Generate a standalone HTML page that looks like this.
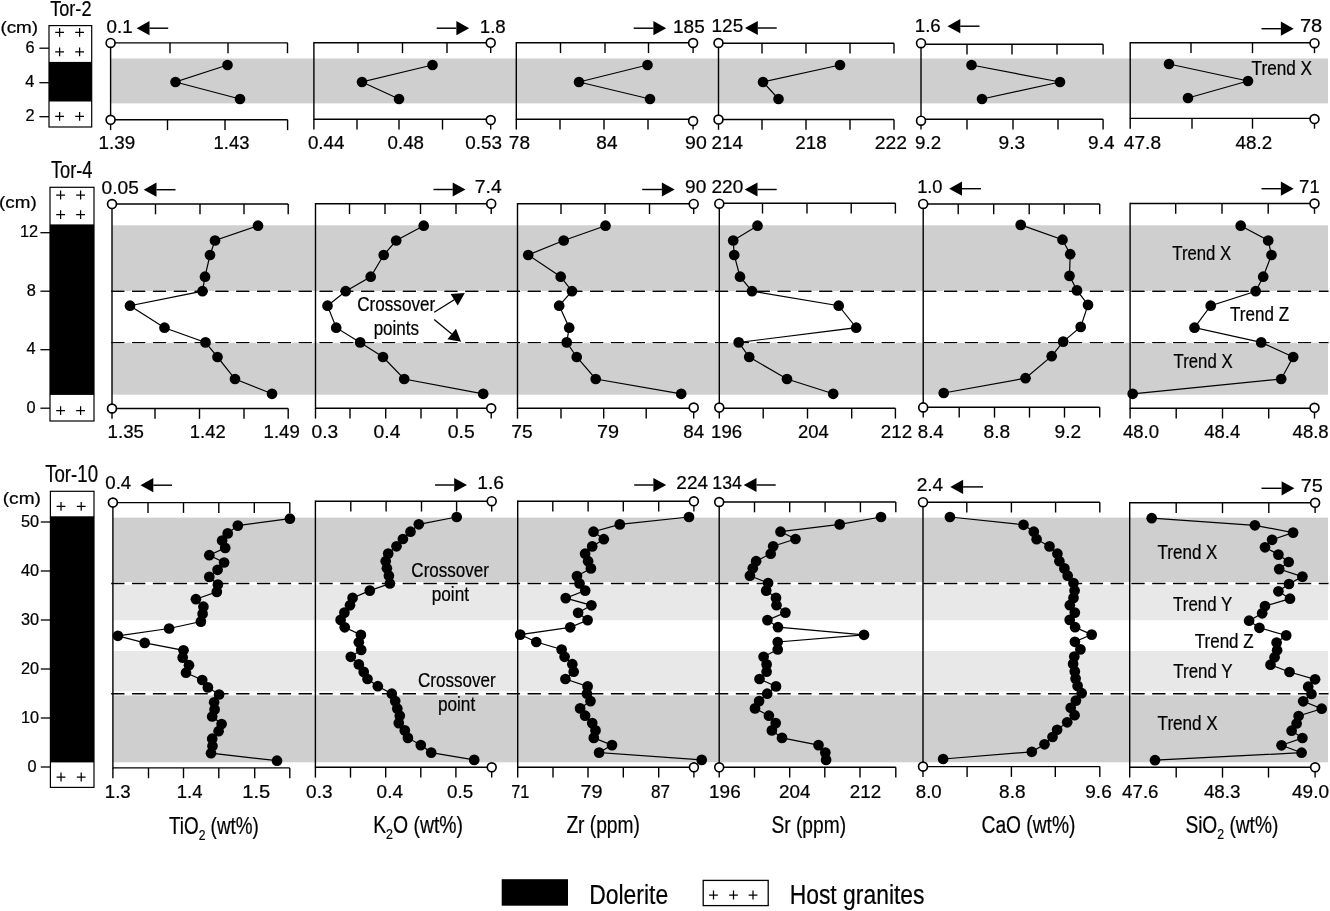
<!DOCTYPE html>
<html><head><meta charset="utf-8"><title>Tor dolerite geochemical profiles</title>
<style>
html,body{margin:0;padding:0;background:#fff}
svg{display:block}
text{font-family:"Liberation Sans",sans-serif;fill:#000;stroke:#000;stroke-width:0.22px}
</style></head><body>
<svg width="1330" height="911" viewBox="0 0 1330 911">
<rect width="1330" height="911" fill="#fff"/>
<rect x="111.00" y="58.50" width="1217.00" height="44.90" fill="#cfcfcf"/>
<rect x="112.00" y="225.30" width="1216.00" height="65.70" fill="#cfcfcf"/>
<rect x="112.00" y="342.70" width="1216.00" height="52.00" fill="#cfcfcf"/>
<rect x="113.00" y="517.60" width="1215.00" height="64.40" fill="#cfcfcf"/>
<rect x="113.00" y="585.10" width="1215.00" height="35.10" fill="#e8e8e8"/>
<rect x="113.00" y="651.00" width="1215.00" height="40.30" fill="#e8e8e8"/>
<rect x="113.00" y="695.20" width="1215.00" height="67.10" fill="#cfcfcf"/>
<line x1="110.5" y1="291.3" x2="1328.5" y2="291.3" stroke="#fff" stroke-width="2.8" stroke-dasharray="14.7 6.12"/>
<line x1="111.2" y1="291.3" x2="1328.5" y2="291.3" stroke="#000" stroke-width="1.4" stroke-dasharray="13.3 7.52"/>
<line x1="110.5" y1="342.6" x2="1328.5" y2="342.6" stroke="#fff" stroke-width="2.8" stroke-dasharray="14.7 6.12"/>
<line x1="111.2" y1="342.6" x2="1328.5" y2="342.6" stroke="#000" stroke-width="1.4" stroke-dasharray="13.3 7.52"/>
<line x1="111.2" y1="583.55" x2="1328.5" y2="583.55" stroke="#fff" stroke-width="3.1"/>
<line x1="111.2" y1="583.55" x2="1328.5" y2="583.55" stroke="#000" stroke-width="1.4" stroke-dasharray="13.3 7.52"/>
<line x1="111.2" y1="693.7" x2="1328.5" y2="693.7" stroke="#fff" stroke-width="3.1"/>
<line x1="111.2" y1="693.7" x2="1328.5" y2="693.7" stroke="#000" stroke-width="1.4" stroke-dasharray="13.3 7.52"/>
<rect x="49.00" y="25.60" width="42.70" height="101.40" fill="#fff" stroke="#000" stroke-width="1.2"/>
<rect x="49.00" y="61.90" width="42.70" height="39.60" fill="#000"/>
<path d="M55.20 32.30H64.00M59.60 27.90V36.70" stroke="#000" stroke-width="1.25" fill="none"/>
<path d="M75.20 32.30H84.00M79.60 27.90V36.70" stroke="#000" stroke-width="1.25" fill="none"/>
<path d="M55.20 51.90H64.00M59.60 47.50V56.30" stroke="#000" stroke-width="1.25" fill="none"/>
<path d="M75.20 51.90H84.00M79.60 47.50V56.30" stroke="#000" stroke-width="1.25" fill="none"/>
<path d="M55.20 116.40H64.00M59.60 112.00V120.80" stroke="#000" stroke-width="1.25" fill="none"/>
<path d="M75.20 116.40H84.00M79.60 112.00V120.80" stroke="#000" stroke-width="1.25" fill="none"/>
<rect x="50.00" y="187.30" width="44.00" height="233.70" fill="#fff" stroke="#000" stroke-width="1.2"/>
<rect x="50.00" y="224.40" width="44.00" height="170.50" fill="#000"/>
<path d="M56.20 195.00H65.00M60.60 190.60V199.40" stroke="#000" stroke-width="1.25" fill="none"/>
<path d="M76.20 195.00H85.00M80.60 190.60V199.40" stroke="#000" stroke-width="1.25" fill="none"/>
<path d="M56.20 214.60H65.00M60.60 210.20V219.00" stroke="#000" stroke-width="1.25" fill="none"/>
<path d="M76.20 214.60H85.00M80.60 210.20V219.00" stroke="#000" stroke-width="1.25" fill="none"/>
<path d="M56.20 410.60H65.00M60.60 406.20V415.00" stroke="#000" stroke-width="1.25" fill="none"/>
<path d="M76.20 410.60H85.00M80.60 406.20V415.00" stroke="#000" stroke-width="1.25" fill="none"/>
<rect x="50.40" y="491.30" width="43.60" height="296.10" fill="#fff" stroke="#000" stroke-width="1.2"/>
<rect x="50.40" y="516.30" width="43.60" height="246.10" fill="#000"/>
<path d="M56.60 506.30H65.40M61.00 501.90V510.70" stroke="#000" stroke-width="1.25" fill="none"/>
<path d="M76.80 506.30H85.60M81.20 501.90V510.70" stroke="#000" stroke-width="1.25" fill="none"/>
<path d="M56.60 777.00H65.40M61.00 772.60V781.40" stroke="#000" stroke-width="1.25" fill="none"/>
<path d="M76.80 777.00H85.60M81.20 772.60V781.40" stroke="#000" stroke-width="1.25" fill="none"/>
<line x1="39.40" y1="48.20" x2="49.00" y2="48.20" stroke="#000" stroke-width="1.3" />
<text transform="translate(25.58,52.90) scale(1.0400,1)" font-size="15.7">6</text>
<line x1="39.40" y1="82.70" x2="49.00" y2="82.70" stroke="#000" stroke-width="1.3" />
<text transform="translate(25.32,87.40) scale(1.0400,1)" font-size="15.7">4</text>
<line x1="39.40" y1="116.70" x2="49.00" y2="116.70" stroke="#000" stroke-width="1.3" />
<text transform="translate(25.58,121.40) scale(1.0400,1)" font-size="15.7">2</text>
<line x1="40.40" y1="232.70" x2="50.00" y2="232.70" stroke="#000" stroke-width="1.3" />
<text transform="translate(19.98,237.40) scale(1.0400,1)" font-size="15.7">12</text>
<line x1="40.40" y1="291.20" x2="50.00" y2="291.20" stroke="#000" stroke-width="1.3" />
<text transform="translate(26.68,295.90) scale(1.0400,1)" font-size="15.7">8</text>
<line x1="40.40" y1="349.70" x2="50.00" y2="349.70" stroke="#000" stroke-width="1.3" />
<text transform="translate(26.42,354.40) scale(1.0400,1)" font-size="15.7">4</text>
<line x1="40.40" y1="408.20" x2="50.00" y2="408.20" stroke="#000" stroke-width="1.3" />
<text transform="translate(26.42,412.90) scale(1.0400,1)" font-size="15.7">0</text>
<line x1="40.80" y1="522.00" x2="50.40" y2="522.00" stroke="#000" stroke-width="1.3" />
<text transform="translate(21.02,526.70) scale(1.0400,1)" font-size="15.7">50</text>
<line x1="40.80" y1="571.00" x2="50.40" y2="571.00" stroke="#000" stroke-width="1.3" />
<text transform="translate(21.02,575.70) scale(1.0400,1)" font-size="15.7">40</text>
<line x1="40.80" y1="620.00" x2="50.40" y2="620.00" stroke="#000" stroke-width="1.3" />
<text transform="translate(21.02,624.70) scale(1.0400,1)" font-size="15.7">30</text>
<line x1="40.80" y1="669.00" x2="50.40" y2="669.00" stroke="#000" stroke-width="1.3" />
<text transform="translate(21.02,673.70) scale(1.0400,1)" font-size="15.7">20</text>
<line x1="40.80" y1="718.00" x2="50.40" y2="718.00" stroke="#000" stroke-width="1.3" />
<text transform="translate(21.02,722.70) scale(1.0400,1)" font-size="15.7">10</text>
<line x1="40.80" y1="767.00" x2="50.40" y2="767.00" stroke="#000" stroke-width="1.3" />
<text transform="translate(27.42,771.70) scale(1.0400,1)" font-size="15.7">0</text>
<text transform="translate(0.39,33.20) scale(1.1094,1)" font-size="17">(cm)</text>
<text transform="translate(-0.91,208.20) scale(1.1062,1)" font-size="17">(cm)</text>
<text transform="translate(2.78,503.60) scale(1.1219,1)" font-size="17">(cm)</text>
<text transform="translate(50.21,16.20) scale(0.7882,1)" font-size="23">Tor-2</text>
<text transform="translate(50.90,177.50) scale(0.7922,1)" font-size="23">Tor-4</text>
<text transform="translate(45.19,481.90) scale(0.8109,1)" font-size="23">Tor-10</text>
<line x1="110.60" y1="42.20" x2="110.60" y2="120.50" stroke="#000" stroke-width="1.4" />
<line x1="110.60" y1="42.90" x2="287.70" y2="42.90" stroke="#000" stroke-width="1.4" />
<line x1="110.60" y1="119.80" x2="287.70" y2="119.80" stroke="#000" stroke-width="1.4" />
<line x1="170.00" y1="42.90" x2="170.00" y2="53.20" stroke="#000" stroke-width="1.4" />
<line x1="228.00" y1="42.90" x2="228.00" y2="53.20" stroke="#000" stroke-width="1.4" />
<line x1="287.50" y1="42.90" x2="287.50" y2="53.20" stroke="#000" stroke-width="1.4" />
<line x1="110.60" y1="119.80" x2="110.60" y2="130.10" stroke="#000" stroke-width="1.4" />
<line x1="167.50" y1="119.80" x2="167.50" y2="130.10" stroke="#000" stroke-width="1.4" />
<line x1="225.00" y1="119.80" x2="225.00" y2="130.10" stroke="#000" stroke-width="1.4" />
<line x1="287.60" y1="119.80" x2="287.60" y2="130.10" stroke="#000" stroke-width="1.4" />
<circle cx="110.60" cy="42.90" r="4.45" fill="#fff" stroke="#000" stroke-width="1.65"/>
<circle cx="110.60" cy="119.80" r="4.45" fill="#fff" stroke="#000" stroke-width="1.65"/>
<line x1="313.90" y1="42.10" x2="313.90" y2="120.00" stroke="#000" stroke-width="1.4" />
<line x1="313.90" y1="42.80" x2="490.70" y2="42.80" stroke="#000" stroke-width="1.4" />
<line x1="313.90" y1="119.30" x2="490.70" y2="119.30" stroke="#000" stroke-width="1.4" />
<line x1="358.00" y1="42.80" x2="358.00" y2="53.10" stroke="#000" stroke-width="1.4" />
<line x1="402.50" y1="42.80" x2="402.50" y2="53.10" stroke="#000" stroke-width="1.4" />
<line x1="447.00" y1="42.80" x2="447.00" y2="53.10" stroke="#000" stroke-width="1.4" />
<line x1="490.70" y1="42.80" x2="490.70" y2="53.10" stroke="#000" stroke-width="1.4" />
<line x1="313.90" y1="119.30" x2="313.90" y2="129.60" stroke="#000" stroke-width="1.4" />
<line x1="357.00" y1="119.30" x2="357.00" y2="129.60" stroke="#000" stroke-width="1.4" />
<line x1="399.00" y1="119.30" x2="399.00" y2="129.60" stroke="#000" stroke-width="1.4" />
<line x1="442.50" y1="119.30" x2="442.50" y2="129.60" stroke="#000" stroke-width="1.4" />
<line x1="490.70" y1="119.30" x2="490.70" y2="129.60" stroke="#000" stroke-width="1.4" />
<circle cx="490.70" cy="42.80" r="4.45" fill="#fff" stroke="#000" stroke-width="1.65"/>
<circle cx="490.70" cy="120.00" r="4.45" fill="#fff" stroke="#000" stroke-width="1.65"/>
<line x1="516.30" y1="42.10" x2="516.30" y2="119.90" stroke="#000" stroke-width="1.4" />
<line x1="516.30" y1="42.80" x2="693.10" y2="42.80" stroke="#000" stroke-width="1.4" />
<line x1="516.30" y1="119.20" x2="693.10" y2="119.20" stroke="#000" stroke-width="1.4" />
<line x1="560.50" y1="42.80" x2="560.50" y2="53.10" stroke="#000" stroke-width="1.4" />
<line x1="605.00" y1="42.80" x2="605.00" y2="53.10" stroke="#000" stroke-width="1.4" />
<line x1="648.50" y1="42.80" x2="648.50" y2="53.10" stroke="#000" stroke-width="1.4" />
<line x1="693.10" y1="42.80" x2="693.10" y2="53.10" stroke="#000" stroke-width="1.4" />
<line x1="516.30" y1="119.20" x2="516.30" y2="129.50" stroke="#000" stroke-width="1.4" />
<line x1="560.00" y1="119.20" x2="560.00" y2="129.50" stroke="#000" stroke-width="1.4" />
<line x1="604.00" y1="119.20" x2="604.00" y2="129.50" stroke="#000" stroke-width="1.4" />
<line x1="648.00" y1="119.20" x2="648.00" y2="129.50" stroke="#000" stroke-width="1.4" />
<line x1="693.10" y1="119.20" x2="693.10" y2="129.50" stroke="#000" stroke-width="1.4" />
<circle cx="693.10" cy="43.00" r="4.45" fill="#fff" stroke="#000" stroke-width="1.65"/>
<circle cx="693.10" cy="121.10" r="4.45" fill="#fff" stroke="#000" stroke-width="1.65"/>
<line x1="718.50" y1="42.50" x2="718.50" y2="120.20" stroke="#000" stroke-width="1.4" />
<line x1="718.50" y1="43.20" x2="894.00" y2="43.20" stroke="#000" stroke-width="1.4" />
<line x1="718.50" y1="119.50" x2="894.00" y2="119.50" stroke="#000" stroke-width="1.4" />
<line x1="762.00" y1="43.20" x2="762.00" y2="53.50" stroke="#000" stroke-width="1.4" />
<line x1="806.00" y1="43.20" x2="806.00" y2="53.50" stroke="#000" stroke-width="1.4" />
<line x1="850.00" y1="43.20" x2="850.00" y2="53.50" stroke="#000" stroke-width="1.4" />
<line x1="894.00" y1="43.20" x2="894.00" y2="53.50" stroke="#000" stroke-width="1.4" />
<line x1="718.50" y1="119.50" x2="718.50" y2="129.80" stroke="#000" stroke-width="1.4" />
<line x1="762.00" y1="119.50" x2="762.00" y2="129.80" stroke="#000" stroke-width="1.4" />
<line x1="806.00" y1="119.50" x2="806.00" y2="129.80" stroke="#000" stroke-width="1.4" />
<line x1="850.00" y1="119.50" x2="850.00" y2="129.80" stroke="#000" stroke-width="1.4" />
<line x1="894.00" y1="119.50" x2="894.00" y2="129.80" stroke="#000" stroke-width="1.4" />
<circle cx="718.50" cy="43.00" r="4.45" fill="#fff" stroke="#000" stroke-width="1.65"/>
<circle cx="718.50" cy="119.50" r="4.45" fill="#fff" stroke="#000" stroke-width="1.65"/>
<line x1="921.00" y1="43.60" x2="921.00" y2="120.00" stroke="#000" stroke-width="1.4" />
<line x1="921.00" y1="44.30" x2="1103.10" y2="44.30" stroke="#000" stroke-width="1.4" />
<line x1="921.00" y1="119.30" x2="1103.10" y2="119.30" stroke="#000" stroke-width="1.4" />
<line x1="967.00" y1="44.30" x2="967.00" y2="54.60" stroke="#000" stroke-width="1.4" />
<line x1="1012.00" y1="44.30" x2="1012.00" y2="54.60" stroke="#000" stroke-width="1.4" />
<line x1="1057.00" y1="44.30" x2="1057.00" y2="54.60" stroke="#000" stroke-width="1.4" />
<line x1="1103.10" y1="44.30" x2="1103.10" y2="54.60" stroke="#000" stroke-width="1.4" />
<line x1="921.00" y1="119.30" x2="921.00" y2="129.60" stroke="#000" stroke-width="1.4" />
<line x1="967.00" y1="119.30" x2="967.00" y2="129.60" stroke="#000" stroke-width="1.4" />
<line x1="1013.00" y1="119.30" x2="1013.00" y2="129.60" stroke="#000" stroke-width="1.4" />
<line x1="1058.00" y1="119.30" x2="1058.00" y2="129.60" stroke="#000" stroke-width="1.4" />
<line x1="1103.10" y1="119.30" x2="1103.10" y2="129.60" stroke="#000" stroke-width="1.4" />
<circle cx="921.00" cy="43.20" r="4.45" fill="#fff" stroke="#000" stroke-width="1.65"/>
<circle cx="921.00" cy="120.70" r="4.45" fill="#fff" stroke="#000" stroke-width="1.65"/>
<line x1="1130.20" y1="42.10" x2="1130.20" y2="119.10" stroke="#000" stroke-width="1.4" />
<line x1="1130.20" y1="42.80" x2="1314.50" y2="42.80" stroke="#000" stroke-width="1.4" />
<line x1="1130.20" y1="118.40" x2="1314.50" y2="118.40" stroke="#000" stroke-width="1.4" />
<line x1="1191.00" y1="42.80" x2="1191.00" y2="53.10" stroke="#000" stroke-width="1.4" />
<line x1="1252.50" y1="42.80" x2="1252.50" y2="53.10" stroke="#000" stroke-width="1.4" />
<line x1="1314.50" y1="42.80" x2="1314.50" y2="53.10" stroke="#000" stroke-width="1.4" />
<line x1="1130.20" y1="118.40" x2="1130.20" y2="128.70" stroke="#000" stroke-width="1.4" />
<line x1="1192.00" y1="118.40" x2="1192.00" y2="128.70" stroke="#000" stroke-width="1.4" />
<line x1="1252.50" y1="118.40" x2="1252.50" y2="128.70" stroke="#000" stroke-width="1.4" />
<line x1="1314.50" y1="118.40" x2="1314.50" y2="128.70" stroke="#000" stroke-width="1.4" />
<circle cx="1314.50" cy="43.20" r="4.45" fill="#fff" stroke="#000" stroke-width="1.65"/>
<circle cx="1314.50" cy="119.00" r="4.45" fill="#fff" stroke="#000" stroke-width="1.65"/>
<path d="M227.5 65.0L175.5 82.0L240.0 99.0" fill="none" stroke="#000" stroke-width="1.2"/>
<circle cx="227.5" cy="65.0" r="5.3" fill="#000"/>
<circle cx="175.5" cy="82.0" r="5.3" fill="#000"/>
<circle cx="240.0" cy="99.0" r="5.3" fill="#000"/>
<path d="M432.5 65.0L362.0 82.0L399.0 99.0" fill="none" stroke="#000" stroke-width="1.2"/>
<circle cx="432.5" cy="65.0" r="5.3" fill="#000"/>
<circle cx="362.0" cy="82.0" r="5.3" fill="#000"/>
<circle cx="399.0" cy="99.0" r="5.3" fill="#000"/>
<path d="M647.5 65.0L579.0 82.0L650.0 99.0" fill="none" stroke="#000" stroke-width="1.2"/>
<circle cx="647.5" cy="65.0" r="5.3" fill="#000"/>
<circle cx="579.0" cy="82.0" r="5.3" fill="#000"/>
<circle cx="650.0" cy="99.0" r="5.3" fill="#000"/>
<path d="M840.0 65.0L763.0 82.0L778.5 99.0" fill="none" stroke="#000" stroke-width="1.2"/>
<circle cx="840.0" cy="65.0" r="5.3" fill="#000"/>
<circle cx="763.0" cy="82.0" r="5.3" fill="#000"/>
<circle cx="778.5" cy="99.0" r="5.3" fill="#000"/>
<path d="M971.5 65.0L1060.0 82.0L982.0 99.0" fill="none" stroke="#000" stroke-width="1.2"/>
<circle cx="971.5" cy="65.0" r="5.3" fill="#000"/>
<circle cx="1060.0" cy="82.0" r="5.3" fill="#000"/>
<circle cx="982.0" cy="99.0" r="5.3" fill="#000"/>
<path d="M1169.0 64.0L1248.0 81.0L1188.0 98.0" fill="none" stroke="#000" stroke-width="1.2"/>
<circle cx="1169.0" cy="64.0" r="5.3" fill="#000"/>
<circle cx="1248.0" cy="81.0" r="5.3" fill="#000"/>
<circle cx="1188.0" cy="98.0" r="5.3" fill="#000"/>
<line x1="112.00" y1="203.30" x2="112.00" y2="409.20" stroke="#000" stroke-width="1.4" />
<line x1="112.00" y1="204.00" x2="288.20" y2="204.00" stroke="#000" stroke-width="1.4" />
<line x1="112.00" y1="408.50" x2="288.20" y2="408.50" stroke="#000" stroke-width="1.4" />
<line x1="155.50" y1="204.00" x2="155.50" y2="214.30" stroke="#000" stroke-width="1.4" />
<line x1="200.00" y1="204.00" x2="200.00" y2="214.30" stroke="#000" stroke-width="1.4" />
<line x1="244.00" y1="204.00" x2="244.00" y2="214.30" stroke="#000" stroke-width="1.4" />
<line x1="288.20" y1="204.00" x2="288.20" y2="214.30" stroke="#000" stroke-width="1.4" />
<line x1="112.00" y1="408.50" x2="112.00" y2="418.80" stroke="#000" stroke-width="1.4" />
<line x1="155.00" y1="408.50" x2="155.00" y2="418.80" stroke="#000" stroke-width="1.4" />
<line x1="199.50" y1="408.50" x2="199.50" y2="418.80" stroke="#000" stroke-width="1.4" />
<line x1="244.00" y1="408.50" x2="244.00" y2="418.80" stroke="#000" stroke-width="1.4" />
<line x1="288.20" y1="408.50" x2="288.20" y2="418.80" stroke="#000" stroke-width="1.4" />
<circle cx="112.00" cy="204.00" r="4.45" fill="#fff" stroke="#000" stroke-width="1.65"/>
<circle cx="112.00" cy="408.50" r="4.45" fill="#fff" stroke="#000" stroke-width="1.65"/>
<line x1="315.50" y1="203.00" x2="315.50" y2="409.00" stroke="#000" stroke-width="1.4" />
<line x1="315.50" y1="203.70" x2="491.20" y2="203.70" stroke="#000" stroke-width="1.4" />
<line x1="315.50" y1="408.30" x2="491.20" y2="408.30" stroke="#000" stroke-width="1.4" />
<line x1="349.50" y1="203.70" x2="349.50" y2="214.00" stroke="#000" stroke-width="1.4" />
<line x1="385.00" y1="203.70" x2="385.00" y2="214.00" stroke="#000" stroke-width="1.4" />
<line x1="420.50" y1="203.70" x2="420.50" y2="214.00" stroke="#000" stroke-width="1.4" />
<line x1="456.00" y1="203.70" x2="456.00" y2="214.00" stroke="#000" stroke-width="1.4" />
<line x1="491.20" y1="203.70" x2="491.20" y2="214.00" stroke="#000" stroke-width="1.4" />
<line x1="315.50" y1="408.30" x2="315.50" y2="418.60" stroke="#000" stroke-width="1.4" />
<line x1="350.00" y1="408.30" x2="350.00" y2="418.60" stroke="#000" stroke-width="1.4" />
<line x1="385.70" y1="408.30" x2="385.70" y2="418.60" stroke="#000" stroke-width="1.4" />
<line x1="421.00" y1="408.30" x2="421.00" y2="418.60" stroke="#000" stroke-width="1.4" />
<line x1="457.00" y1="408.30" x2="457.00" y2="418.60" stroke="#000" stroke-width="1.4" />
<line x1="491.20" y1="408.30" x2="491.20" y2="418.60" stroke="#000" stroke-width="1.4" />
<circle cx="491.20" cy="203.70" r="4.45" fill="#fff" stroke="#000" stroke-width="1.65"/>
<circle cx="491.20" cy="408.30" r="4.45" fill="#fff" stroke="#000" stroke-width="1.65"/>
<line x1="517.50" y1="203.00" x2="517.50" y2="409.00" stroke="#000" stroke-width="1.4" />
<line x1="517.50" y1="203.70" x2="693.70" y2="203.70" stroke="#000" stroke-width="1.4" />
<line x1="517.50" y1="408.30" x2="693.70" y2="408.30" stroke="#000" stroke-width="1.4" />
<line x1="561.00" y1="203.70" x2="561.00" y2="214.00" stroke="#000" stroke-width="1.4" />
<line x1="605.00" y1="203.70" x2="605.00" y2="214.00" stroke="#000" stroke-width="1.4" />
<line x1="649.50" y1="203.70" x2="649.50" y2="214.00" stroke="#000" stroke-width="1.4" />
<line x1="693.70" y1="203.70" x2="693.70" y2="214.00" stroke="#000" stroke-width="1.4" />
<line x1="517.50" y1="408.30" x2="517.50" y2="418.60" stroke="#000" stroke-width="1.4" />
<line x1="561.00" y1="408.30" x2="561.00" y2="418.60" stroke="#000" stroke-width="1.4" />
<line x1="603.70" y1="408.30" x2="603.70" y2="418.60" stroke="#000" stroke-width="1.4" />
<line x1="646.20" y1="408.30" x2="646.20" y2="418.60" stroke="#000" stroke-width="1.4" />
<line x1="693.70" y1="408.30" x2="693.70" y2="418.60" stroke="#000" stroke-width="1.4" />
<circle cx="693.70" cy="203.90" r="4.45" fill="#fff" stroke="#000" stroke-width="1.65"/>
<circle cx="693.70" cy="407.60" r="4.45" fill="#fff" stroke="#000" stroke-width="1.65"/>
<line x1="719.30" y1="202.50" x2="719.30" y2="408.90" stroke="#000" stroke-width="1.4" />
<line x1="719.30" y1="203.20" x2="895.40" y2="203.20" stroke="#000" stroke-width="1.4" />
<line x1="719.30" y1="408.20" x2="895.40" y2="408.20" stroke="#000" stroke-width="1.4" />
<line x1="762.50" y1="203.20" x2="762.50" y2="213.50" stroke="#000" stroke-width="1.4" />
<line x1="807.00" y1="203.20" x2="807.00" y2="213.50" stroke="#000" stroke-width="1.4" />
<line x1="851.20" y1="203.20" x2="851.20" y2="213.50" stroke="#000" stroke-width="1.4" />
<line x1="895.40" y1="203.20" x2="895.40" y2="213.50" stroke="#000" stroke-width="1.4" />
<line x1="719.30" y1="408.20" x2="719.30" y2="418.50" stroke="#000" stroke-width="1.4" />
<line x1="763.20" y1="408.20" x2="763.20" y2="418.50" stroke="#000" stroke-width="1.4" />
<line x1="807.50" y1="408.20" x2="807.50" y2="418.50" stroke="#000" stroke-width="1.4" />
<line x1="851.70" y1="408.20" x2="851.70" y2="418.50" stroke="#000" stroke-width="1.4" />
<line x1="895.40" y1="408.20" x2="895.40" y2="418.50" stroke="#000" stroke-width="1.4" />
<circle cx="719.30" cy="203.70" r="4.45" fill="#fff" stroke="#000" stroke-width="1.65"/>
<circle cx="719.30" cy="407.60" r="4.45" fill="#fff" stroke="#000" stroke-width="1.65"/>
<line x1="923.20" y1="203.30" x2="923.20" y2="408.00" stroke="#000" stroke-width="1.4" />
<line x1="923.20" y1="204.00" x2="1099.70" y2="204.00" stroke="#000" stroke-width="1.4" />
<line x1="923.20" y1="407.30" x2="1099.70" y2="407.30" stroke="#000" stroke-width="1.4" />
<line x1="958.20" y1="204.00" x2="958.20" y2="214.30" stroke="#000" stroke-width="1.4" />
<line x1="993.70" y1="204.00" x2="993.70" y2="214.30" stroke="#000" stroke-width="1.4" />
<line x1="1029.20" y1="204.00" x2="1029.20" y2="214.30" stroke="#000" stroke-width="1.4" />
<line x1="1064.20" y1="204.00" x2="1064.20" y2="214.30" stroke="#000" stroke-width="1.4" />
<line x1="1099.70" y1="204.00" x2="1099.70" y2="214.30" stroke="#000" stroke-width="1.4" />
<line x1="923.20" y1="407.30" x2="923.20" y2="417.60" stroke="#000" stroke-width="1.4" />
<line x1="959.20" y1="407.30" x2="959.20" y2="417.60" stroke="#000" stroke-width="1.4" />
<line x1="994.50" y1="407.30" x2="994.50" y2="417.60" stroke="#000" stroke-width="1.4" />
<line x1="1029.50" y1="407.30" x2="1029.50" y2="417.60" stroke="#000" stroke-width="1.4" />
<line x1="1064.50" y1="407.30" x2="1064.50" y2="417.60" stroke="#000" stroke-width="1.4" />
<line x1="1099.70" y1="407.30" x2="1099.70" y2="417.60" stroke="#000" stroke-width="1.4" />
<circle cx="923.20" cy="203.90" r="4.45" fill="#fff" stroke="#000" stroke-width="1.65"/>
<circle cx="923.20" cy="407.40" r="4.45" fill="#fff" stroke="#000" stroke-width="1.65"/>
<line x1="1130.10" y1="202.80" x2="1130.10" y2="408.90" stroke="#000" stroke-width="1.4" />
<line x1="1130.10" y1="203.50" x2="1314.50" y2="203.50" stroke="#000" stroke-width="1.4" />
<line x1="1130.10" y1="408.20" x2="1314.50" y2="408.20" stroke="#000" stroke-width="1.4" />
<line x1="1175.70" y1="203.50" x2="1175.70" y2="213.80" stroke="#000" stroke-width="1.4" />
<line x1="1222.00" y1="203.50" x2="1222.00" y2="213.80" stroke="#000" stroke-width="1.4" />
<line x1="1268.20" y1="203.50" x2="1268.20" y2="213.80" stroke="#000" stroke-width="1.4" />
<line x1="1314.50" y1="203.50" x2="1314.50" y2="213.80" stroke="#000" stroke-width="1.4" />
<line x1="1130.10" y1="408.20" x2="1130.10" y2="418.50" stroke="#000" stroke-width="1.4" />
<line x1="1176.20" y1="408.20" x2="1176.20" y2="418.50" stroke="#000" stroke-width="1.4" />
<line x1="1222.50" y1="408.20" x2="1222.50" y2="418.50" stroke="#000" stroke-width="1.4" />
<line x1="1268.70" y1="408.20" x2="1268.70" y2="418.50" stroke="#000" stroke-width="1.4" />
<line x1="1314.50" y1="408.20" x2="1314.50" y2="418.50" stroke="#000" stroke-width="1.4" />
<circle cx="1314.50" cy="203.60" r="4.45" fill="#fff" stroke="#000" stroke-width="1.65"/>
<circle cx="1314.50" cy="407.80" r="4.45" fill="#fff" stroke="#000" stroke-width="1.65"/>
<path d="M258.0 225.7L215.0 240.5L210.0 255.0L205.0 276.7L202.5 291.2L130.0 305.7L164.5 327.7L205.5 342.4L217.5 357.0L235.0 379.0L272.0 393.8" fill="none" stroke="#000" stroke-width="1.2"/>
<circle cx="258.0" cy="225.7" r="5.35" fill="#000"/>
<circle cx="215.0" cy="240.5" r="5.35" fill="#000"/>
<circle cx="210.0" cy="255.0" r="5.35" fill="#000"/>
<circle cx="205.0" cy="276.7" r="5.35" fill="#000"/>
<circle cx="202.5" cy="291.2" r="5.35" fill="#000"/>
<circle cx="130.0" cy="305.7" r="5.35" fill="#000"/>
<circle cx="164.5" cy="327.7" r="5.35" fill="#000"/>
<circle cx="205.5" cy="342.4" r="5.35" fill="#000"/>
<circle cx="217.5" cy="357.0" r="5.35" fill="#000"/>
<circle cx="235.0" cy="379.0" r="5.35" fill="#000"/>
<circle cx="272.0" cy="393.8" r="5.35" fill="#000"/>
<path d="M423.7 225.7L396.2 240.5L383.7 255.0L370.7 276.7L345.7 291.2L327.5 305.7L336.2 327.7L360.2 342.4L383.0 357.0L404.2 379.0L483.2 393.8" fill="none" stroke="#000" stroke-width="1.2"/>
<circle cx="423.7" cy="225.7" r="5.35" fill="#000"/>
<circle cx="396.2" cy="240.5" r="5.35" fill="#000"/>
<circle cx="383.7" cy="255.0" r="5.35" fill="#000"/>
<circle cx="370.7" cy="276.7" r="5.35" fill="#000"/>
<circle cx="345.7" cy="291.2" r="5.35" fill="#000"/>
<circle cx="327.5" cy="305.7" r="5.35" fill="#000"/>
<circle cx="336.2" cy="327.7" r="5.35" fill="#000"/>
<circle cx="360.2" cy="342.4" r="5.35" fill="#000"/>
<circle cx="383.0" cy="357.0" r="5.35" fill="#000"/>
<circle cx="404.2" cy="379.0" r="5.35" fill="#000"/>
<circle cx="483.2" cy="393.8" r="5.35" fill="#000"/>
<path d="M605.5 225.7L563.7 240.5L528.2 255.0L560.7 276.7L572.0 291.2L559.2 305.7L569.2 327.7L566.7 342.4L576.7 357.0L595.7 379.0L681.2 393.8" fill="none" stroke="#000" stroke-width="1.2"/>
<circle cx="605.5" cy="225.7" r="5.35" fill="#000"/>
<circle cx="563.7" cy="240.5" r="5.35" fill="#000"/>
<circle cx="528.2" cy="255.0" r="5.35" fill="#000"/>
<circle cx="560.7" cy="276.7" r="5.35" fill="#000"/>
<circle cx="572.0" cy="291.2" r="5.35" fill="#000"/>
<circle cx="559.2" cy="305.7" r="5.35" fill="#000"/>
<circle cx="569.2" cy="327.7" r="5.35" fill="#000"/>
<circle cx="566.7" cy="342.4" r="5.35" fill="#000"/>
<circle cx="576.7" cy="357.0" r="5.35" fill="#000"/>
<circle cx="595.7" cy="379.0" r="5.35" fill="#000"/>
<circle cx="681.2" cy="393.8" r="5.35" fill="#000"/>
<path d="M757.5 225.7L733.2 240.5L734.2 255.0L740.0 276.7L752.0 291.2L838.7 305.7L856.2 327.7L738.7 342.4L749.2 357.0L787.0 379.0L833.2 393.8" fill="none" stroke="#000" stroke-width="1.2"/>
<circle cx="757.5" cy="225.7" r="5.35" fill="#000"/>
<circle cx="733.2" cy="240.5" r="5.35" fill="#000"/>
<circle cx="734.2" cy="255.0" r="5.35" fill="#000"/>
<circle cx="740.0" cy="276.7" r="5.35" fill="#000"/>
<circle cx="752.0" cy="291.2" r="5.35" fill="#000"/>
<circle cx="838.7" cy="305.7" r="5.35" fill="#000"/>
<circle cx="856.2" cy="327.7" r="5.35" fill="#000"/>
<circle cx="738.7" cy="342.4" r="5.35" fill="#000"/>
<circle cx="749.2" cy="357.0" r="5.35" fill="#000"/>
<circle cx="787.0" cy="379.0" r="5.35" fill="#000"/>
<circle cx="833.2" cy="393.8" r="5.35" fill="#000"/>
<path d="M1020.7 224.9L1062.5 239.7L1070.2 254.2L1069.5 275.9L1077.0 290.4L1088.0 304.9L1080.7 326.9L1063.2 341.6L1051.7 356.2L1025.5 378.2L943.7 393.0" fill="none" stroke="#000" stroke-width="1.2"/>
<circle cx="1020.7" cy="224.9" r="5.35" fill="#000"/>
<circle cx="1062.5" cy="239.7" r="5.35" fill="#000"/>
<circle cx="1070.2" cy="254.2" r="5.35" fill="#000"/>
<circle cx="1069.5" cy="275.9" r="5.35" fill="#000"/>
<circle cx="1077.0" cy="290.4" r="5.35" fill="#000"/>
<circle cx="1088.0" cy="304.9" r="5.35" fill="#000"/>
<circle cx="1080.7" cy="326.9" r="5.35" fill="#000"/>
<circle cx="1063.2" cy="341.6" r="5.35" fill="#000"/>
<circle cx="1051.7" cy="356.2" r="5.35" fill="#000"/>
<circle cx="1025.5" cy="378.2" r="5.35" fill="#000"/>
<circle cx="943.7" cy="393.0" r="5.35" fill="#000"/>
<path d="M1240.7 225.7L1268.2 240.5L1271.5 255.0L1263.2 276.7L1255.7 291.2L1210.7 305.7L1194.5 327.7L1261.2 342.4L1293.2 357.0L1281.2 379.0L1132.7 393.8" fill="none" stroke="#000" stroke-width="1.2"/>
<circle cx="1240.7" cy="225.7" r="5.35" fill="#000"/>
<circle cx="1268.2" cy="240.5" r="5.35" fill="#000"/>
<circle cx="1271.5" cy="255.0" r="5.35" fill="#000"/>
<circle cx="1263.2" cy="276.7" r="5.35" fill="#000"/>
<circle cx="1255.7" cy="291.2" r="5.35" fill="#000"/>
<circle cx="1210.7" cy="305.7" r="5.35" fill="#000"/>
<circle cx="1194.5" cy="327.7" r="5.35" fill="#000"/>
<circle cx="1261.2" cy="342.4" r="5.35" fill="#000"/>
<circle cx="1293.2" cy="357.0" r="5.35" fill="#000"/>
<circle cx="1281.2" cy="379.0" r="5.35" fill="#000"/>
<circle cx="1132.7" cy="393.8" r="5.35" fill="#000"/>
<line x1="112.90" y1="501.90" x2="112.90" y2="768.60" stroke="#000" stroke-width="1.4" />
<line x1="112.90" y1="502.60" x2="289.80" y2="502.60" stroke="#000" stroke-width="1.4" />
<line x1="112.90" y1="767.90" x2="289.80" y2="767.90" stroke="#000" stroke-width="1.4" />
<line x1="148.00" y1="502.60" x2="148.00" y2="512.90" stroke="#000" stroke-width="1.4" />
<line x1="183.50" y1="502.60" x2="183.50" y2="512.90" stroke="#000" stroke-width="1.4" />
<line x1="218.80" y1="502.60" x2="218.80" y2="512.90" stroke="#000" stroke-width="1.4" />
<line x1="254.30" y1="502.60" x2="254.30" y2="512.90" stroke="#000" stroke-width="1.4" />
<line x1="289.80" y1="502.60" x2="289.80" y2="512.90" stroke="#000" stroke-width="1.4" />
<line x1="112.90" y1="767.90" x2="112.90" y2="778.20" stroke="#000" stroke-width="1.4" />
<line x1="148.50" y1="767.90" x2="148.50" y2="778.20" stroke="#000" stroke-width="1.4" />
<line x1="183.50" y1="767.90" x2="183.50" y2="778.20" stroke="#000" stroke-width="1.4" />
<line x1="218.80" y1="767.90" x2="218.80" y2="778.20" stroke="#000" stroke-width="1.4" />
<line x1="254.70" y1="767.90" x2="254.70" y2="778.20" stroke="#000" stroke-width="1.4" />
<line x1="289.80" y1="767.90" x2="289.80" y2="778.20" stroke="#000" stroke-width="1.4" />
<circle cx="112.90" cy="502.60" r="4.45" fill="#fff" stroke="#000" stroke-width="1.65"/>
<line x1="315.40" y1="500.50" x2="315.40" y2="768.00" stroke="#000" stroke-width="1.4" />
<line x1="315.40" y1="501.20" x2="491.70" y2="501.20" stroke="#000" stroke-width="1.4" />
<line x1="315.40" y1="767.30" x2="491.70" y2="767.30" stroke="#000" stroke-width="1.4" />
<line x1="350.80" y1="501.20" x2="350.80" y2="511.50" stroke="#000" stroke-width="1.4" />
<line x1="386.10" y1="501.20" x2="386.10" y2="511.50" stroke="#000" stroke-width="1.4" />
<line x1="421.50" y1="501.20" x2="421.50" y2="511.50" stroke="#000" stroke-width="1.4" />
<line x1="456.60" y1="501.20" x2="456.60" y2="511.50" stroke="#000" stroke-width="1.4" />
<line x1="491.70" y1="501.20" x2="491.70" y2="511.50" stroke="#000" stroke-width="1.4" />
<line x1="315.40" y1="767.30" x2="315.40" y2="777.60" stroke="#000" stroke-width="1.4" />
<line x1="350.50" y1="767.30" x2="350.50" y2="777.60" stroke="#000" stroke-width="1.4" />
<line x1="385.70" y1="767.30" x2="385.70" y2="777.60" stroke="#000" stroke-width="1.4" />
<line x1="420.80" y1="767.30" x2="420.80" y2="777.60" stroke="#000" stroke-width="1.4" />
<line x1="455.90" y1="767.30" x2="455.90" y2="777.60" stroke="#000" stroke-width="1.4" />
<line x1="491.70" y1="767.30" x2="491.70" y2="777.60" stroke="#000" stroke-width="1.4" />
<circle cx="491.70" cy="501.20" r="4.45" fill="#fff" stroke="#000" stroke-width="1.65"/>
<circle cx="491.70" cy="767.30" r="4.45" fill="#fff" stroke="#000" stroke-width="1.65"/>
<line x1="517.70" y1="500.60" x2="517.70" y2="768.00" stroke="#000" stroke-width="1.4" />
<line x1="517.70" y1="501.30" x2="693.90" y2="501.30" stroke="#000" stroke-width="1.4" />
<line x1="517.70" y1="767.30" x2="693.90" y2="767.30" stroke="#000" stroke-width="1.4" />
<line x1="552.80" y1="501.30" x2="552.80" y2="511.60" stroke="#000" stroke-width="1.4" />
<line x1="588.10" y1="501.30" x2="588.10" y2="511.60" stroke="#000" stroke-width="1.4" />
<line x1="623.30" y1="501.30" x2="623.30" y2="511.60" stroke="#000" stroke-width="1.4" />
<line x1="658.70" y1="501.30" x2="658.70" y2="511.60" stroke="#000" stroke-width="1.4" />
<line x1="693.90" y1="501.30" x2="693.90" y2="511.60" stroke="#000" stroke-width="1.4" />
<line x1="517.70" y1="767.30" x2="517.70" y2="777.60" stroke="#000" stroke-width="1.4" />
<line x1="553.00" y1="767.30" x2="553.00" y2="777.60" stroke="#000" stroke-width="1.4" />
<line x1="588.00" y1="767.30" x2="588.00" y2="777.60" stroke="#000" stroke-width="1.4" />
<line x1="623.30" y1="767.30" x2="623.30" y2="777.60" stroke="#000" stroke-width="1.4" />
<line x1="658.70" y1="767.30" x2="658.70" y2="777.60" stroke="#000" stroke-width="1.4" />
<line x1="693.90" y1="767.30" x2="693.90" y2="777.60" stroke="#000" stroke-width="1.4" />
<circle cx="693.90" cy="501.30" r="4.45" fill="#fff" stroke="#000" stroke-width="1.65"/>
<circle cx="693.90" cy="767.30" r="4.45" fill="#fff" stroke="#000" stroke-width="1.65"/>
<line x1="719.20" y1="501.30" x2="719.20" y2="768.00" stroke="#000" stroke-width="1.4" />
<line x1="719.20" y1="502.00" x2="895.80" y2="502.00" stroke="#000" stroke-width="1.4" />
<line x1="719.20" y1="767.30" x2="895.80" y2="767.30" stroke="#000" stroke-width="1.4" />
<line x1="754.50" y1="502.00" x2="754.50" y2="512.30" stroke="#000" stroke-width="1.4" />
<line x1="789.70" y1="502.00" x2="789.70" y2="512.30" stroke="#000" stroke-width="1.4" />
<line x1="825.10" y1="502.00" x2="825.10" y2="512.30" stroke="#000" stroke-width="1.4" />
<line x1="860.40" y1="502.00" x2="860.40" y2="512.30" stroke="#000" stroke-width="1.4" />
<line x1="895.80" y1="502.00" x2="895.80" y2="512.30" stroke="#000" stroke-width="1.4" />
<line x1="719.20" y1="767.30" x2="719.20" y2="777.60" stroke="#000" stroke-width="1.4" />
<line x1="754.50" y1="767.30" x2="754.50" y2="777.60" stroke="#000" stroke-width="1.4" />
<line x1="789.70" y1="767.30" x2="789.70" y2="777.60" stroke="#000" stroke-width="1.4" />
<line x1="824.80" y1="767.30" x2="824.80" y2="777.60" stroke="#000" stroke-width="1.4" />
<line x1="860.00" y1="767.30" x2="860.00" y2="777.60" stroke="#000" stroke-width="1.4" />
<line x1="895.80" y1="767.30" x2="895.80" y2="777.60" stroke="#000" stroke-width="1.4" />
<circle cx="719.20" cy="502.00" r="4.45" fill="#fff" stroke="#000" stroke-width="1.65"/>
<circle cx="719.20" cy="767.30" r="4.45" fill="#fff" stroke="#000" stroke-width="1.65"/>
<line x1="923.00" y1="501.50" x2="923.00" y2="767.30" stroke="#000" stroke-width="1.4" />
<line x1="923.00" y1="502.20" x2="1099.80" y2="502.20" stroke="#000" stroke-width="1.4" />
<line x1="923.00" y1="766.60" x2="1099.80" y2="766.60" stroke="#000" stroke-width="1.4" />
<line x1="966.80" y1="502.20" x2="966.80" y2="512.50" stroke="#000" stroke-width="1.4" />
<line x1="1011.40" y1="502.20" x2="1011.40" y2="512.50" stroke="#000" stroke-width="1.4" />
<line x1="1055.60" y1="502.20" x2="1055.60" y2="512.50" stroke="#000" stroke-width="1.4" />
<line x1="1099.80" y1="502.20" x2="1099.80" y2="512.50" stroke="#000" stroke-width="1.4" />
<line x1="923.00" y1="766.60" x2="923.00" y2="776.90" stroke="#000" stroke-width="1.4" />
<line x1="967.10" y1="766.60" x2="967.10" y2="776.90" stroke="#000" stroke-width="1.4" />
<line x1="1011.40" y1="766.60" x2="1011.40" y2="776.90" stroke="#000" stroke-width="1.4" />
<line x1="1055.30" y1="766.60" x2="1055.30" y2="776.90" stroke="#000" stroke-width="1.4" />
<line x1="1099.80" y1="766.60" x2="1099.80" y2="776.90" stroke="#000" stroke-width="1.4" />
<circle cx="923.00" cy="502.20" r="4.45" fill="#fff" stroke="#000" stroke-width="1.65"/>
<circle cx="923.00" cy="766.60" r="4.45" fill="#fff" stroke="#000" stroke-width="1.65"/>
<line x1="1129.70" y1="502.10" x2="1129.70" y2="768.00" stroke="#000" stroke-width="1.4" />
<line x1="1129.70" y1="502.80" x2="1315.10" y2="502.80" stroke="#000" stroke-width="1.4" />
<line x1="1129.70" y1="767.30" x2="1315.10" y2="767.30" stroke="#000" stroke-width="1.4" />
<line x1="1176.20" y1="502.80" x2="1176.20" y2="513.10" stroke="#000" stroke-width="1.4" />
<line x1="1222.50" y1="502.80" x2="1222.50" y2="513.10" stroke="#000" stroke-width="1.4" />
<line x1="1268.80" y1="502.80" x2="1268.80" y2="513.10" stroke="#000" stroke-width="1.4" />
<line x1="1315.10" y1="502.80" x2="1315.10" y2="513.10" stroke="#000" stroke-width="1.4" />
<line x1="1129.70" y1="767.30" x2="1129.70" y2="777.60" stroke="#000" stroke-width="1.4" />
<line x1="1176.20" y1="767.30" x2="1176.20" y2="777.60" stroke="#000" stroke-width="1.4" />
<line x1="1222.50" y1="767.30" x2="1222.50" y2="777.60" stroke="#000" stroke-width="1.4" />
<line x1="1268.50" y1="767.30" x2="1268.50" y2="777.60" stroke="#000" stroke-width="1.4" />
<line x1="1315.10" y1="767.30" x2="1315.10" y2="777.60" stroke="#000" stroke-width="1.4" />
<circle cx="1315.10" cy="502.80" r="4.45" fill="#fff" stroke="#000" stroke-width="1.65"/>
<circle cx="1315.10" cy="767.30" r="4.45" fill="#fff" stroke="#000" stroke-width="1.65"/>
<path d="M289.9 518.7L237.8 525.6L227.7 533.4L222.1 540.5L225.2 547.9L209.3 555.2L224.1 562.5L217.6 569.8L209.3 576.9L217.9 584.5L216.8 591.9L195.9 599.2L203.4 606.7L202.6 613.9L200.9 621.6L169.1 628.5L117.9 635.8L144.7 642.9L183.5 650.3L182.7 657.6L189.0 665.2L186.0 672.7L202.2 680.0L207.9 687.4L219.1 694.5L214.1 702.3L214.6 709.4L212.2 716.5L221.6 724.0L218.6 731.2L212.2 738.7L212.5 746.0L211.0 753.2L277.0 760.7" fill="none" stroke="#000" stroke-width="1.2"/>
<circle cx="289.9" cy="518.7" r="5.35" fill="#000"/>
<circle cx="237.8" cy="525.6" r="5.35" fill="#000"/>
<circle cx="227.7" cy="533.4" r="5.35" fill="#000"/>
<circle cx="222.1" cy="540.5" r="5.35" fill="#000"/>
<circle cx="225.2" cy="547.9" r="5.35" fill="#000"/>
<circle cx="209.3" cy="555.2" r="5.35" fill="#000"/>
<circle cx="224.1" cy="562.5" r="5.35" fill="#000"/>
<circle cx="217.6" cy="569.8" r="5.35" fill="#000"/>
<circle cx="209.3" cy="576.9" r="5.35" fill="#000"/>
<circle cx="217.9" cy="584.5" r="5.35" fill="#000"/>
<circle cx="216.8" cy="591.9" r="5.35" fill="#000"/>
<circle cx="195.9" cy="599.2" r="5.35" fill="#000"/>
<circle cx="203.4" cy="606.7" r="5.35" fill="#000"/>
<circle cx="202.6" cy="613.9" r="5.35" fill="#000"/>
<circle cx="200.9" cy="621.6" r="5.35" fill="#000"/>
<circle cx="169.1" cy="628.5" r="5.35" fill="#000"/>
<circle cx="117.9" cy="635.8" r="5.35" fill="#000"/>
<circle cx="144.7" cy="642.9" r="5.35" fill="#000"/>
<circle cx="183.5" cy="650.3" r="5.35" fill="#000"/>
<circle cx="182.7" cy="657.6" r="5.35" fill="#000"/>
<circle cx="189.0" cy="665.2" r="5.35" fill="#000"/>
<circle cx="186.0" cy="672.7" r="5.35" fill="#000"/>
<circle cx="202.2" cy="680.0" r="5.35" fill="#000"/>
<circle cx="207.9" cy="687.4" r="5.35" fill="#000"/>
<circle cx="219.1" cy="694.5" r="5.35" fill="#000"/>
<circle cx="214.1" cy="702.3" r="5.35" fill="#000"/>
<circle cx="214.6" cy="709.4" r="5.35" fill="#000"/>
<circle cx="212.2" cy="716.5" r="5.35" fill="#000"/>
<circle cx="221.6" cy="724.0" r="5.35" fill="#000"/>
<circle cx="218.6" cy="731.2" r="5.35" fill="#000"/>
<circle cx="212.2" cy="738.7" r="5.35" fill="#000"/>
<circle cx="212.5" cy="746.0" r="5.35" fill="#000"/>
<circle cx="211.0" cy="753.2" r="5.35" fill="#000"/>
<circle cx="277.0" cy="760.7" r="5.35" fill="#000"/>
<path d="M456.7 517.0L418.8 524.3L410.5 531.7L402.9 539.0L396.5 546.3L388.2 553.6L385.7 561.2L386.9 568.3L388.9 575.7L389.9 583.5L369.8 590.6L352.6 597.9L350.0 605.3L344.4 612.6L340.6 619.9L344.7 627.3L360.9 634.9L358.8 642.3L361.2 649.9L350.8 656.8L358.8 664.4L363.7 671.9L367.5 679.0L377.8 686.2L391.8 693.7L395.2 701.1L397.3 708.6L399.8 715.7L398.8 723.1L404.8 730.4L407.9 737.9L420.8 745.1L431.2 752.6L474.2 759.9" fill="none" stroke="#000" stroke-width="1.2"/>
<circle cx="456.7" cy="517.0" r="5.35" fill="#000"/>
<circle cx="418.8" cy="524.3" r="5.35" fill="#000"/>
<circle cx="410.5" cy="531.7" r="5.35" fill="#000"/>
<circle cx="402.9" cy="539.0" r="5.35" fill="#000"/>
<circle cx="396.5" cy="546.3" r="5.35" fill="#000"/>
<circle cx="388.2" cy="553.6" r="5.35" fill="#000"/>
<circle cx="385.7" cy="561.2" r="5.35" fill="#000"/>
<circle cx="386.9" cy="568.3" r="5.35" fill="#000"/>
<circle cx="388.9" cy="575.7" r="5.35" fill="#000"/>
<circle cx="389.9" cy="583.5" r="5.35" fill="#000"/>
<circle cx="369.8" cy="590.6" r="5.35" fill="#000"/>
<circle cx="352.6" cy="597.9" r="5.35" fill="#000"/>
<circle cx="350.0" cy="605.3" r="5.35" fill="#000"/>
<circle cx="344.4" cy="612.6" r="5.35" fill="#000"/>
<circle cx="340.6" cy="619.9" r="5.35" fill="#000"/>
<circle cx="344.7" cy="627.3" r="5.35" fill="#000"/>
<circle cx="360.9" cy="634.9" r="5.35" fill="#000"/>
<circle cx="358.8" cy="642.3" r="5.35" fill="#000"/>
<circle cx="361.2" cy="649.9" r="5.35" fill="#000"/>
<circle cx="350.8" cy="656.8" r="5.35" fill="#000"/>
<circle cx="358.8" cy="664.4" r="5.35" fill="#000"/>
<circle cx="363.7" cy="671.9" r="5.35" fill="#000"/>
<circle cx="367.5" cy="679.0" r="5.35" fill="#000"/>
<circle cx="377.8" cy="686.2" r="5.35" fill="#000"/>
<circle cx="391.8" cy="693.7" r="5.35" fill="#000"/>
<circle cx="395.2" cy="701.1" r="5.35" fill="#000"/>
<circle cx="397.3" cy="708.6" r="5.35" fill="#000"/>
<circle cx="399.8" cy="715.7" r="5.35" fill="#000"/>
<circle cx="398.8" cy="723.1" r="5.35" fill="#000"/>
<circle cx="404.8" cy="730.4" r="5.35" fill="#000"/>
<circle cx="407.9" cy="737.9" r="5.35" fill="#000"/>
<circle cx="420.8" cy="745.1" r="5.35" fill="#000"/>
<circle cx="431.2" cy="752.6" r="5.35" fill="#000"/>
<circle cx="474.2" cy="759.9" r="5.35" fill="#000"/>
<path d="M689.0 517.0L619.8 524.4L593.5 531.7L603.8 539.2L592.2 546.4L585.1 553.7L588.1 561.2L590.9 568.4L577.0 576.1L579.5 583.5L585.2 590.6L565.7 598.1L591.4 605.3L578.1 612.8L587.6 620.1L570.2 627.3L520.2 634.6L536.3 642.0L561.6 649.5L564.6 656.8L572.3 664.2L573.7 671.7L565.4 679.0L587.6 686.4L586.9 693.7L590.5 701.1L580.1 708.4L585.1 715.7L592.2 723.1L595.5 730.4L593.8 737.9L612.0 745.1L599.1 752.6L701.7 759.9" fill="none" stroke="#000" stroke-width="1.2"/>
<circle cx="689.0" cy="517.0" r="5.35" fill="#000"/>
<circle cx="619.8" cy="524.4" r="5.35" fill="#000"/>
<circle cx="593.5" cy="531.7" r="5.35" fill="#000"/>
<circle cx="603.8" cy="539.2" r="5.35" fill="#000"/>
<circle cx="592.2" cy="546.4" r="5.35" fill="#000"/>
<circle cx="585.1" cy="553.7" r="5.35" fill="#000"/>
<circle cx="588.1" cy="561.2" r="5.35" fill="#000"/>
<circle cx="590.9" cy="568.4" r="5.35" fill="#000"/>
<circle cx="577.0" cy="576.1" r="5.35" fill="#000"/>
<circle cx="579.5" cy="583.5" r="5.35" fill="#000"/>
<circle cx="585.2" cy="590.6" r="5.35" fill="#000"/>
<circle cx="565.7" cy="598.1" r="5.35" fill="#000"/>
<circle cx="591.4" cy="605.3" r="5.35" fill="#000"/>
<circle cx="578.1" cy="612.8" r="5.35" fill="#000"/>
<circle cx="587.6" cy="620.1" r="5.35" fill="#000"/>
<circle cx="570.2" cy="627.3" r="5.35" fill="#000"/>
<circle cx="520.2" cy="634.6" r="5.35" fill="#000"/>
<circle cx="536.3" cy="642.0" r="5.35" fill="#000"/>
<circle cx="561.6" cy="649.5" r="5.35" fill="#000"/>
<circle cx="564.6" cy="656.8" r="5.35" fill="#000"/>
<circle cx="572.3" cy="664.2" r="5.35" fill="#000"/>
<circle cx="573.7" cy="671.7" r="5.35" fill="#000"/>
<circle cx="565.4" cy="679.0" r="5.35" fill="#000"/>
<circle cx="587.6" cy="686.4" r="5.35" fill="#000"/>
<circle cx="586.9" cy="693.7" r="5.35" fill="#000"/>
<circle cx="590.5" cy="701.1" r="5.35" fill="#000"/>
<circle cx="580.1" cy="708.4" r="5.35" fill="#000"/>
<circle cx="585.1" cy="715.7" r="5.35" fill="#000"/>
<circle cx="592.2" cy="723.1" r="5.35" fill="#000"/>
<circle cx="595.5" cy="730.4" r="5.35" fill="#000"/>
<circle cx="593.8" cy="737.9" r="5.35" fill="#000"/>
<circle cx="612.0" cy="745.1" r="5.35" fill="#000"/>
<circle cx="599.1" cy="752.6" r="5.35" fill="#000"/>
<circle cx="701.7" cy="759.9" r="5.35" fill="#000"/>
<path d="M881.0 517.0L839.7 524.4L780.5 531.7L795.5 539.0L773.2 546.3L770.7 553.7L756.1 561.2L752.8 568.3L749.9 575.7L768.1 583.0L766.2 590.6L776.0 597.9L776.5 605.2L785.4 612.6L767.4 620.1L778.0 627.2L864.0 634.8L777.7 642.0L777.7 649.5L763.6 656.8L766.6 664.4L766.6 671.7L759.5 679.0L776.0 686.4L767.2 693.7L759.1 701.1L755.0 708.4L768.9 715.7L775.7 723.1L771.9 730.4L782.0 737.9L818.5 745.1L825.3 752.6L826.1 759.9" fill="none" stroke="#000" stroke-width="1.2"/>
<circle cx="881.0" cy="517.0" r="5.35" fill="#000"/>
<circle cx="839.7" cy="524.4" r="5.35" fill="#000"/>
<circle cx="780.5" cy="531.7" r="5.35" fill="#000"/>
<circle cx="795.5" cy="539.0" r="5.35" fill="#000"/>
<circle cx="773.2" cy="546.3" r="5.35" fill="#000"/>
<circle cx="770.7" cy="553.7" r="5.35" fill="#000"/>
<circle cx="756.1" cy="561.2" r="5.35" fill="#000"/>
<circle cx="752.8" cy="568.3" r="5.35" fill="#000"/>
<circle cx="749.9" cy="575.7" r="5.35" fill="#000"/>
<circle cx="768.1" cy="583.0" r="5.35" fill="#000"/>
<circle cx="766.2" cy="590.6" r="5.35" fill="#000"/>
<circle cx="776.0" cy="597.9" r="5.35" fill="#000"/>
<circle cx="776.5" cy="605.2" r="5.35" fill="#000"/>
<circle cx="785.4" cy="612.6" r="5.35" fill="#000"/>
<circle cx="767.4" cy="620.1" r="5.35" fill="#000"/>
<circle cx="778.0" cy="627.2" r="5.35" fill="#000"/>
<circle cx="864.0" cy="634.8" r="5.35" fill="#000"/>
<circle cx="777.7" cy="642.0" r="5.35" fill="#000"/>
<circle cx="777.7" cy="649.5" r="5.35" fill="#000"/>
<circle cx="763.6" cy="656.8" r="5.35" fill="#000"/>
<circle cx="766.6" cy="664.4" r="5.35" fill="#000"/>
<circle cx="766.6" cy="671.7" r="5.35" fill="#000"/>
<circle cx="759.5" cy="679.0" r="5.35" fill="#000"/>
<circle cx="776.0" cy="686.4" r="5.35" fill="#000"/>
<circle cx="767.2" cy="693.7" r="5.35" fill="#000"/>
<circle cx="759.1" cy="701.1" r="5.35" fill="#000"/>
<circle cx="755.0" cy="708.4" r="5.35" fill="#000"/>
<circle cx="768.9" cy="715.7" r="5.35" fill="#000"/>
<circle cx="775.7" cy="723.1" r="5.35" fill="#000"/>
<circle cx="771.9" cy="730.4" r="5.35" fill="#000"/>
<circle cx="782.0" cy="737.9" r="5.35" fill="#000"/>
<circle cx="818.5" cy="745.1" r="5.35" fill="#000"/>
<circle cx="825.3" cy="752.6" r="5.35" fill="#000"/>
<circle cx="826.1" cy="759.9" r="5.35" fill="#000"/>
<path d="M949.9 517.0L1023.5 524.8L1033.8 531.7L1036.6 539.2L1049.5 546.4L1057.4 553.7L1059.4 561.2L1064.4 568.4L1067.7 575.7L1073.5 583.0L1074.6 590.5L1073.5 597.9L1069.8 605.2L1074.8 612.6L1069.7 619.9L1075.1 627.2L1091.7 634.6L1074.9 641.8L1080.4 649.4L1074.3 656.5L1073.1 663.9L1074.8 671.4L1075.6 678.6L1077.6 685.9L1081.7 693.2L1075.9 700.6L1070.7 707.8L1074.6 715.2L1067.2 722.3L1057.1 729.8L1052.5 737.0L1044.5 744.3L1031.8 751.8L943.1 759.0" fill="none" stroke="#000" stroke-width="1.2"/>
<circle cx="949.9" cy="517.0" r="5.35" fill="#000"/>
<circle cx="1023.5" cy="524.8" r="5.35" fill="#000"/>
<circle cx="1033.8" cy="531.7" r="5.35" fill="#000"/>
<circle cx="1036.6" cy="539.2" r="5.35" fill="#000"/>
<circle cx="1049.5" cy="546.4" r="5.35" fill="#000"/>
<circle cx="1057.4" cy="553.7" r="5.35" fill="#000"/>
<circle cx="1059.4" cy="561.2" r="5.35" fill="#000"/>
<circle cx="1064.4" cy="568.4" r="5.35" fill="#000"/>
<circle cx="1067.7" cy="575.7" r="5.35" fill="#000"/>
<circle cx="1073.5" cy="583.0" r="5.35" fill="#000"/>
<circle cx="1074.6" cy="590.5" r="5.35" fill="#000"/>
<circle cx="1073.5" cy="597.9" r="5.35" fill="#000"/>
<circle cx="1069.8" cy="605.2" r="5.35" fill="#000"/>
<circle cx="1074.8" cy="612.6" r="5.35" fill="#000"/>
<circle cx="1069.7" cy="619.9" r="5.35" fill="#000"/>
<circle cx="1075.1" cy="627.2" r="5.35" fill="#000"/>
<circle cx="1091.7" cy="634.6" r="5.35" fill="#000"/>
<circle cx="1074.9" cy="641.8" r="5.35" fill="#000"/>
<circle cx="1080.4" cy="649.4" r="5.35" fill="#000"/>
<circle cx="1074.3" cy="656.5" r="5.35" fill="#000"/>
<circle cx="1073.1" cy="663.9" r="5.35" fill="#000"/>
<circle cx="1074.8" cy="671.4" r="5.35" fill="#000"/>
<circle cx="1075.6" cy="678.6" r="5.35" fill="#000"/>
<circle cx="1077.6" cy="685.9" r="5.35" fill="#000"/>
<circle cx="1081.7" cy="693.2" r="5.35" fill="#000"/>
<circle cx="1075.9" cy="700.6" r="5.35" fill="#000"/>
<circle cx="1070.7" cy="707.8" r="5.35" fill="#000"/>
<circle cx="1074.6" cy="715.2" r="5.35" fill="#000"/>
<circle cx="1067.2" cy="722.3" r="5.35" fill="#000"/>
<circle cx="1057.1" cy="729.8" r="5.35" fill="#000"/>
<circle cx="1052.5" cy="737.0" r="5.35" fill="#000"/>
<circle cx="1044.5" cy="744.3" r="5.35" fill="#000"/>
<circle cx="1031.8" cy="751.8" r="5.35" fill="#000"/>
<circle cx="943.1" cy="759.0" r="5.35" fill="#000"/>
<path d="M1151.7 518.2L1254.9 525.3L1293.1 532.6L1272.1 539.8L1265.0 547.3L1278.4 554.6L1288.7 562.0L1279.2 569.1L1302.4 576.6L1289.0 584.0L1278.4 591.3L1290.0 598.7L1265.0 606.0L1262.2 613.3L1249.1 620.7L1259.4 627.8L1286.2 635.4L1276.6 642.5L1277.1 650.2L1274.6 657.3L1270.5 664.7L1289.5 672.0L1315.1 679.3L1308.2 686.7L1311.5 694.0L1303.2 701.3L1321.7 708.7L1298.6 716.0L1296.6 723.5L1291.6 730.7L1302.4 738.0L1281.5 745.3L1301.6 752.7L1155.0 760.2" fill="none" stroke="#000" stroke-width="1.2"/>
<circle cx="1151.7" cy="518.2" r="5.35" fill="#000"/>
<circle cx="1254.9" cy="525.3" r="5.35" fill="#000"/>
<circle cx="1293.1" cy="532.6" r="5.35" fill="#000"/>
<circle cx="1272.1" cy="539.8" r="5.35" fill="#000"/>
<circle cx="1265.0" cy="547.3" r="5.35" fill="#000"/>
<circle cx="1278.4" cy="554.6" r="5.35" fill="#000"/>
<circle cx="1288.7" cy="562.0" r="5.35" fill="#000"/>
<circle cx="1279.2" cy="569.1" r="5.35" fill="#000"/>
<circle cx="1302.4" cy="576.6" r="5.35" fill="#000"/>
<circle cx="1289.0" cy="584.0" r="5.35" fill="#000"/>
<circle cx="1278.4" cy="591.3" r="5.35" fill="#000"/>
<circle cx="1290.0" cy="598.7" r="5.35" fill="#000"/>
<circle cx="1265.0" cy="606.0" r="5.35" fill="#000"/>
<circle cx="1262.2" cy="613.3" r="5.35" fill="#000"/>
<circle cx="1249.1" cy="620.7" r="5.35" fill="#000"/>
<circle cx="1259.4" cy="627.8" r="5.35" fill="#000"/>
<circle cx="1286.2" cy="635.4" r="5.35" fill="#000"/>
<circle cx="1276.6" cy="642.5" r="5.35" fill="#000"/>
<circle cx="1277.1" cy="650.2" r="5.35" fill="#000"/>
<circle cx="1274.6" cy="657.3" r="5.35" fill="#000"/>
<circle cx="1270.5" cy="664.7" r="5.35" fill="#000"/>
<circle cx="1289.5" cy="672.0" r="5.35" fill="#000"/>
<circle cx="1315.1" cy="679.3" r="5.35" fill="#000"/>
<circle cx="1308.2" cy="686.7" r="5.35" fill="#000"/>
<circle cx="1311.5" cy="694.0" r="5.35" fill="#000"/>
<circle cx="1303.2" cy="701.3" r="5.35" fill="#000"/>
<circle cx="1321.7" cy="708.7" r="5.35" fill="#000"/>
<circle cx="1298.6" cy="716.0" r="5.35" fill="#000"/>
<circle cx="1296.6" cy="723.5" r="5.35" fill="#000"/>
<circle cx="1291.6" cy="730.7" r="5.35" fill="#000"/>
<circle cx="1302.4" cy="738.0" r="5.35" fill="#000"/>
<circle cx="1281.5" cy="745.3" r="5.35" fill="#000"/>
<circle cx="1301.6" cy="752.7" r="5.35" fill="#000"/>
<circle cx="1155.0" cy="760.2" r="5.35" fill="#000"/>
<text transform="translate(98.59,149.00) scale(1.0455,1)" font-size="18">1.39</text>
<text transform="translate(213.62,149.00) scale(1.0242,1)" font-size="18">1.43</text>
<text transform="translate(307.92,149.00) scale(1.0430,1)" font-size="18">0.44</text>
<text transform="translate(387.62,149.00) scale(1.0388,1)" font-size="18">0.48</text>
<text transform="translate(465.31,149.00) scale(1.0478,1)" font-size="18">0.53</text>
<text transform="translate(508.84,149.00) scale(1.0575,1)" font-size="18">78</text>
<text transform="translate(596.31,149.00) scale(1.0560,1)" font-size="18">84</text>
<text transform="translate(685.09,149.00) scale(1.0811,1)" font-size="18">90</text>
<text transform="translate(711.55,149.00) scale(1.0456,1)" font-size="18">214</text>
<text transform="translate(795.36,149.00) scale(1.0442,1)" font-size="18">218</text>
<text transform="translate(874.83,149.00) scale(1.0726,1)" font-size="18">222</text>
<text transform="translate(915.12,149.00) scale(1.0426,1)" font-size="18">9.2</text>
<text transform="translate(998.60,149.00) scale(1.0638,1)" font-size="18">9.3</text>
<text transform="translate(1088.11,149.00) scale(1.0526,1)" font-size="18">9.4</text>
<text transform="translate(1123.87,149.00) scale(1.0607,1)" font-size="18">47.8</text>
<text transform="translate(1235.58,149.00) scale(1.0459,1)" font-size="18">48.2</text>
<text transform="translate(107.60,438.20) scale(1.0394,1)" font-size="18">1.35</text>
<text transform="translate(189.82,438.20) scale(1.0242,1)" font-size="18">1.42</text>
<text transform="translate(263.61,438.20) scale(1.0303,1)" font-size="18">1.49</text>
<text transform="translate(311.60,438.20) scale(1.0638,1)" font-size="18">0.3</text>
<text transform="translate(373.59,438.20) scale(1.0737,1)" font-size="18">0.4</text>
<text transform="translate(447.79,438.20) scale(1.0766,1)" font-size="18">0.5</text>
<text transform="translate(511.33,438.20) scale(1.0685,1)" font-size="18">75</text>
<text transform="translate(597.00,438.20) scale(1.1014,1)" font-size="18">79</text>
<text transform="translate(683.32,438.20) scale(1.0453,1)" font-size="18">84</text>
<text transform="translate(711.11,438.20) scale(1.0357,1)" font-size="18">196</text>
<text transform="translate(798.08,438.20) scale(1.0211,1)" font-size="18">204</text>
<text transform="translate(880.86,438.20) scale(1.0442,1)" font-size="18">212</text>
<text transform="translate(917.82,438.20) scale(1.0358,1)" font-size="18">8.4</text>
<text transform="translate(983.60,438.20) scale(1.0638,1)" font-size="18">8.8</text>
<text transform="translate(1054.50,438.20) scale(1.0638,1)" font-size="18">9.2</text>
<text transform="translate(1122.99,438.20) scale(1.0281,1)" font-size="18">48.0</text>
<text transform="translate(1204.19,438.20) scale(1.0294,1)" font-size="18">48.4</text>
<text transform="translate(1292.58,438.20) scale(1.0311,1)" font-size="18">48.8</text>
<text transform="translate(104.81,798.40) scale(1.0348,1)" font-size="18">1.3</text>
<text transform="translate(176.82,798.40) scale(1.0237,1)" font-size="18">1.4</text>
<text transform="translate(242.20,798.40) scale(1.1217,1)" font-size="18">1.5</text>
<text transform="translate(306.11,798.40) scale(1.0553,1)" font-size="18">0.3</text>
<text transform="translate(376.61,798.40) scale(1.0526,1)" font-size="18">0.4</text>
<text transform="translate(447.12,798.40) scale(1.0426,1)" font-size="18">0.5</text>
<text transform="translate(511.19,798.40) scale(0.9096,1)" font-size="18">71</text>
<text transform="translate(580.50,798.40) scale(1.1014,1)" font-size="18">79</text>
<text transform="translate(650.89,798.40) scale(0.9514,1)" font-size="18">87</text>
<text transform="translate(709.08,798.40) scale(1.0536,1)" font-size="18">196</text>
<text transform="translate(779.05,798.40) scale(1.0456,1)" font-size="18">204</text>
<text transform="translate(849.86,798.40) scale(1.0442,1)" font-size="18">212</text>
<text transform="translate(915.82,798.40) scale(1.0340,1)" font-size="18">8.0</text>
<text transform="translate(999.11,798.40) scale(1.0553,1)" font-size="18">8.8</text>
<text transform="translate(1085.31,798.40) scale(1.0553,1)" font-size="18">9.6</text>
<text transform="translate(1122.08,798.40) scale(1.0400,1)" font-size="18">47.6</text>
<text transform="translate(1203.88,798.40) scale(1.0459,1)" font-size="18">48.3</text>
<text transform="translate(1292.07,798.40) scale(1.0548,1)" font-size="18">49.0</text>
<text transform="translate(106.62,32.80) scale(1.0426,1)" font-size="18">0.1</text>
<path d="M136.70 28.20L149.50 21.10V35.30Z" fill="#000"/>
<line x1="149.50" y1="28.20" x2="168.20" y2="28.20" stroke="#000" stroke-width="1.45" />
<path d="M469.20 28.20L456.40 21.10V35.30Z" fill="#000"/>
<line x1="456.40" y1="28.20" x2="436.70" y2="28.20" stroke="#000" stroke-width="1.45" />
<text transform="translate(479.81,32.80) scale(1.0348,1)" font-size="18">1.8</text>
<path d="M666.20 28.20L653.40 21.10V35.30Z" fill="#000"/>
<line x1="653.40" y1="28.20" x2="633.70" y2="28.20" stroke="#000" stroke-width="1.45" />
<text transform="translate(673.08,32.60) scale(1.0536,1)" font-size="18">185</text>
<text transform="translate(711.58,32.30) scale(1.0536,1)" font-size="18">125</text>
<path d="M745.00 28.00L757.80 20.90V35.10Z" fill="#000"/>
<line x1="757.80" y1="28.00" x2="776.70" y2="28.00" stroke="#000" stroke-width="1.45" />
<text transform="translate(914.81,32.00) scale(1.0348,1)" font-size="18">1.6</text>
<path d="M947.50 26.20L960.30 19.10V33.30Z" fill="#000"/>
<line x1="960.30" y1="26.20" x2="979.50" y2="26.20" stroke="#000" stroke-width="1.45" />
<path d="M1293.70 28.70L1280.90 21.60V35.80Z" fill="#000"/>
<line x1="1280.90" y1="28.70" x2="1261.50" y2="28.70" stroke="#000" stroke-width="1.45" />
<text transform="translate(1299.99,32.30) scale(1.1123,1)" font-size="18">78</text>
<text transform="translate(101.61,193.60) scale(1.0597,1)" font-size="18">0.05</text>
<path d="M143.70 189.70L156.50 182.60V196.80Z" fill="#000"/>
<line x1="156.50" y1="189.70" x2="175.50" y2="189.70" stroke="#000" stroke-width="1.45" />
<path d="M465.50 189.50L452.70 182.40V196.60Z" fill="#000"/>
<line x1="452.70" y1="189.50" x2="433.50" y2="189.50" stroke="#000" stroke-width="1.45" />
<text transform="translate(474.82,193.30) scale(1.0766,1)" font-size="18">7.4</text>
<path d="M674.70 189.50L661.90 182.40V196.60Z" fill="#000"/>
<line x1="661.90" y1="189.50" x2="642.20" y2="189.50" stroke="#000" stroke-width="1.45" />
<text transform="translate(685.11,193.30) scale(1.0541,1)" font-size="18">90</text>
<text transform="translate(711.55,193.30) scale(1.0549,1)" font-size="18">220</text>
<path d="M744.70 189.50L757.50 182.40V196.60Z" fill="#000"/>
<line x1="757.50" y1="189.50" x2="776.70" y2="189.50" stroke="#000" stroke-width="1.45" />
<text transform="translate(917.13,192.80) scale(1.0130,1)" font-size="18">1.0</text>
<path d="M949.20 188.70L962.00 181.60V195.80Z" fill="#000"/>
<line x1="962.00" y1="188.70" x2="981.00" y2="188.70" stroke="#000" stroke-width="1.45" />
<path d="M1293.70 188.70L1280.90 181.60V195.80Z" fill="#000"/>
<line x1="1280.90" y1="188.70" x2="1261.50" y2="188.70" stroke="#000" stroke-width="1.45" />
<text transform="translate(1299.07,192.80) scale(1.0301,1)" font-size="18">71</text>
<text transform="translate(105.32,489.00) scale(1.0358,1)" font-size="18">0.4</text>
<path d="M140.50 485.20L153.30 478.10V492.30Z" fill="#000"/>
<line x1="153.30" y1="485.20" x2="172.00" y2="485.20" stroke="#000" stroke-width="1.45" />
<path d="M467.00 485.00L454.20 477.90V492.10Z" fill="#000"/>
<line x1="454.20" y1="485.00" x2="435.00" y2="485.00" stroke="#000" stroke-width="1.45" />
<text transform="translate(477.26,489.00) scale(1.0696,1)" font-size="18">1.6</text>
<path d="M666.20 485.00L653.40 477.90V492.10Z" fill="#000"/>
<line x1="653.40" y1="485.00" x2="634.20" y2="485.00" stroke="#000" stroke-width="1.45" />
<text transform="translate(676.35,489.00) scale(1.0526,1)" font-size="18">224</text>
<text transform="translate(712.37,489.00) scale(0.9841,1)" font-size="18">134</text>
<path d="M743.70 485.00L756.50 477.90V492.10Z" fill="#000"/>
<line x1="756.50" y1="485.00" x2="775.70" y2="485.00" stroke="#000" stroke-width="1.45" />
<text transform="translate(916.64,490.80) scale(1.0638,1)" font-size="18">2.4</text>
<path d="M950.30 486.90L963.10 479.80V494.00Z" fill="#000"/>
<line x1="963.10" y1="486.90" x2="983.00" y2="486.90" stroke="#000" stroke-width="1.45" />
<path d="M1294.40 488.30L1281.60 481.20V495.40Z" fill="#000"/>
<line x1="1281.60" y1="488.30" x2="1261.50" y2="488.30" stroke="#000" stroke-width="1.45" />
<text transform="translate(1300.69,492.00) scale(1.1068,1)" font-size="18">75</text>
<text transform="translate(1251.58,75.00) scale(0.8470,1)" font-size="20.3">Trend X</text>
<text transform="translate(1172.29,259.50) scale(0.8256,1)" font-size="20.3">Trend X</text>
<text transform="translate(1230.08,321.10) scale(0.8391,1)" font-size="20.3">Trend Z</text>
<text transform="translate(1173.59,368.20) scale(0.8256,1)" font-size="20.3">Trend X</text>
<text transform="translate(1157.58,559.10) scale(0.8384,1)" font-size="20.3">Trend X</text>
<text transform="translate(1173.08,610.80) scale(0.8329,1)" font-size="20.3">Trend Y</text>
<text transform="translate(1194.78,647.50) scale(0.8377,1)" font-size="20.3">Trend Z</text>
<text transform="translate(1173.28,678.00) scale(0.8343,1)" font-size="20.3">Trend Y</text>
<text transform="translate(1157.58,729.80) scale(0.8427,1)" font-size="20.3">Trend X</text>
<text transform="translate(357.26,311.20) scale(0.8429,1)" font-size="20.3">Crossover</text>
<text transform="translate(373.65,334.70) scale(0.8383,1)" font-size="20.3">points</text>
<text transform="translate(411.36,577.20) scale(0.8396,1)" font-size="20.3">Crossover</text>
<text transform="translate(431.64,600.90) scale(0.8494,1)" font-size="20.3">point</text>
<text transform="translate(417.96,687.40) scale(0.8396,1)" font-size="20.3">Crossover</text>
<text transform="translate(437.94,711.40) scale(0.8471,1)" font-size="20.3">point</text>
<line x1="434.20" y1="312.30" x2="454.21" y2="299.74" stroke="#000" stroke-width="1.3" />
<path d="M464.80 293.10L457.77 305.42L450.65 294.07Z" fill="#000"/>
<line x1="434.20" y1="319.60" x2="451.69" y2="334.03" stroke="#000" stroke-width="1.3" />
<path d="M461.10 341.80L447.43 339.20L455.96 328.87Z" fill="#000"/>
<text transform="translate(169.00,834.10) scale(0.8087,1)" font-size="23.3">TiO<tspan font-size="15.00" dy="5.8">2</tspan><tspan dy="-5.8"> (wt%)</tspan></text>
<text transform="translate(373.14,833.20) scale(0.8318,1)" font-size="23.3">K<tspan font-size="15.00" dy="5.8">2</tspan><tspan dy="-5.8">O (wt%)</tspan></text>
<text transform="translate(566.38,832.90) scale(0.8241,1)" font-size="23.3">Zr (ppm)</text>
<text transform="translate(771.48,832.90) scale(0.8227,1)" font-size="23.3">Sr (ppm)</text>
<text transform="translate(981.57,833.10) scale(0.8234,1)" font-size="23.3">CaO (wt%)</text>
<text transform="translate(1185.38,833.10) scale(0.8210,1)" font-size="23.3">SiO<tspan font-size="15.00" dy="5.8">2</tspan><tspan dy="-5.8"> (wt%)</tspan></text>
<rect x="501.70" y="879.20" width="66.30" height="26.50" fill="#000"/>
<text transform="translate(589.16,903.70) scale(0.8194,1)" font-size="28">Dolerite</text>
<rect x="703.20" y="880.40" width="65.00" height="25.20" fill="#fff" stroke="#000" stroke-width="1.3"/>
<path d="M709.10 895.00H717.90M713.50 890.60V899.40" stroke="#000" stroke-width="1.25" fill="none"/>
<path d="M729.10 895.00H737.90M733.50 890.60V899.40" stroke="#000" stroke-width="1.25" fill="none"/>
<path d="M748.60 895.00H757.40M753.00 890.60V899.40" stroke="#000" stroke-width="1.25" fill="none"/>
<text transform="translate(789.66,903.50) scale(0.8179,1)" font-size="28">Host granites</text>
</svg>
</body></html>
